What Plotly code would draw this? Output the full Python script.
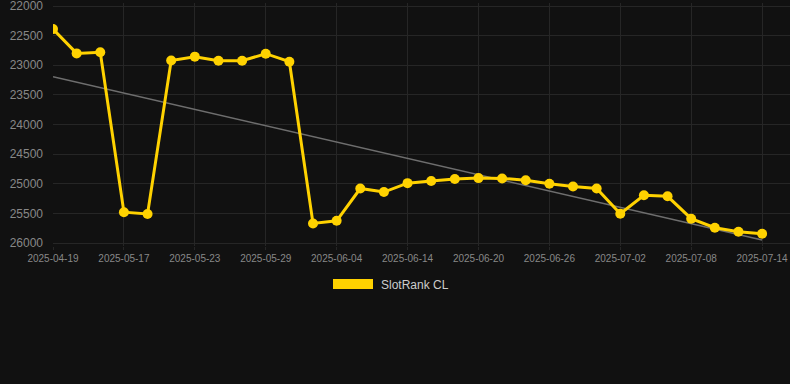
import plotly.graph_objects as go

dates = [
    "2025-04-19", "2025-05-13", "2025-05-15", "2025-05-17", "2025-05-19", "2025-05-21",
    "2025-05-23", "2025-05-25", "2025-05-27", "2025-05-29", "2025-05-31", "2025-06-02",
    "2025-06-04", "2025-06-10", "2025-06-12", "2025-06-14", "2025-06-16", "2025-06-18",
    "2025-06-20", "2025-06-22", "2025-06-24", "2025-06-26", "2025-06-28", "2025-06-30",
    "2025-07-02", "2025-07-04", "2025-07-06", "2025-07-08", "2025-07-10", "2025-07-12",
    "2025-07-14",
]
ranks = [
    22390, 22800, 22780, 25480, 25510, 22920,
    22855, 22925, 22925, 22805, 22940, 25670,
    25625, 25080, 25140, 24990, 24955, 24920,
    24905, 24910, 24940, 25000, 25045, 25080,
    25505, 25195, 25212, 25590, 25742, 25810,
    25843,
]
trend_x = [dates[0], dates[-1]]
trend_y = [23193, 25950]
tick_labels = dates[::3]
y_ticks = [22000, 22500, 23000, 23500, 24000, 24500, 25000, 25500, 26000]
series_name = "SlotRank CL"

GOLD = "#FFD200"
BG = "#111111"
GRID = "#262626"

# pixel layout: 22000 at y=6, 26000 at y=243; plot area padded 3px each side
UNITS_PER_PX = 4000 / 237.0
PAD = 3

fig = go.Figure()
fig.add_trace(go.Scatter(
    x=trend_x, y=trend_y, mode="lines",
    line=dict(color="#6e6e6e", width=1.6), showlegend=False, hoverinfo="skip",
))
fig.add_trace(go.Scatter(
    x=dates, y=ranks, mode="lines+markers", name=series_name,
    line=dict(color=GOLD, width=3),
    marker=dict(color=GOLD, size=10),
    showlegend=False,
))

plot_top = 6 - PAD
plot_bot = 243 + PAD
plot_h = plot_bot - plot_top

def px_x(p):
    return (p - 53) / 737.0

def px_y(p):
    return (plot_bot - p) / float(plot_h)

fig.add_shape(type="rect", xref="paper", yref="paper",
              x0=px_x(333), x1=px_x(373), y0=px_y(289), y1=px_y(279),
              fillcolor=GOLD, line=dict(width=0))
fig.add_annotation(xref="paper", yref="paper", x=px_x(379), y=px_y(284.5),
                   xanchor="left", yanchor="middle", showarrow=False,
                   text=series_name, font=dict(size=12, color="#cccccc",
                                               family="Liberation Sans, Arial"))

fig.update_layout(
    width=790, height=384,
    margin=dict(l=53, r=0, t=plot_top, b=384 - plot_bot, autoexpand=False),
    paper_bgcolor=BG, plot_bgcolor=BG,
    font=dict(family="Liberation Sans, Arial", color="#888888"),
    showlegend=False,
    xaxis=dict(
        type="category", categoryorder="array", categoryarray=dates,
        range=[0, 31.18], tickmode="array", tickvals=tick_labels, ticktext=tick_labels,
        showgrid=True, gridcolor=GRID, gridwidth=1, zeroline=False, showline=False,
        ticks="outside", ticklen=3, tickcolor=GRID, ticklabeloverflow="allow",
        tickfont=dict(size=10, color="#888888"), tickangle=0, automargin=False,
    ),
    yaxis=dict(
        range=[26000 + PAD * UNITS_PER_PX, 22000 - PAD * UNITS_PER_PX], tickmode="array",
        tickvals=y_ticks, ticktext=[str(v) for v in y_ticks],
        showgrid=True, gridcolor=GRID, gridwidth=1, zeroline=False, showline=False,
        ticks="", ticklabelstandoff=9, automargin=False, ticklabeloverflow="allow",
        tickfont=dict(size=12, color="#888888"),
    ),
)

fig.write_html("out.html", config={"displayModeBar": False},
               post_script="document.body.style.margin='0';document.body.style.padding='0';document.body.style.background='#111111';")
